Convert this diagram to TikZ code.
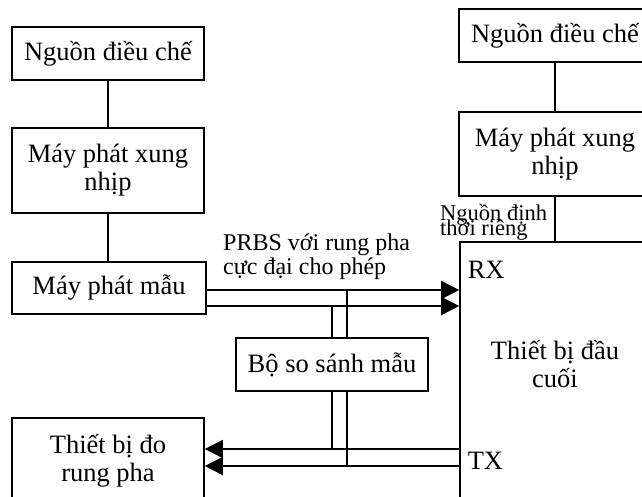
\documentclass[tikz,border=0pt]{standalone}
\usepackage{fontspec}
\setmainfont{Liberation Serif}
\usetikzlibrary{arrows.meta,calc}
\begin{document}
\begin{tikzpicture}[x=1pt,y=-1pt,
  box/.style={draw,line width=1.6pt,align=center,inner sep=0pt,font=\fontsize{26.5}{28}\selectfont},
  conn/.style={line width=1.6pt},
  arr/.style={line width=1.6pt,-{Triangle[length=18pt,width=18pt]}},
  lbl/.style={inner sep=0pt,anchor=base west}]
\useasboundingbox (0,0) rectangle (642,497);
% left column
\node[box,minimum width=192pt,minimum height=53pt] (n1) at (108,53.5) {Nguồn điều chế};
\node[box,minimum width=192pt,minimum height=85pt] (x1) at (108,170.5) {Máy phát xung\\nhịp};
\node[box,minimum width=194pt,minimum height=52pt] (mau) at (109,288) {Máy phát mẫu};
\node[box,minimum width=192pt,minimum height=53pt] (ss) at (332,364.5) {Bộ so sánh mẫu};
\node[box,minimum width=192pt,minimum height=86pt] (do) at (108,461) {Thiết bị đo\\rung pha};
% right column
\node[box,minimum width=192pt,minimum height=53pt] (n2) at (555,35.5) {Nguồn điều chế};
\node[box,minimum width=192pt,minimum height=84pt] (x2) at (555,154) {Máy phát xung\\nhịp};
\node[box,minimum width=190pt,minimum height=262pt] (tb) at (555,373) {};
\node[box,draw=none] (tbt) at (555,364) {Thiết bị đầu\\cuối};
\node[box,draw=none,anchor=west] (rx) at (467,270) {RX};
\node[box,draw=none,anchor=west] (tx) at (467,461) {TX};
% labels
\node[lbl,font=\fontsize{24}{24}\selectfont] (p1) at (223,250) {PRBS với rung pha};
\node[lbl,font=\fontsize{24}{24}\selectfont] (p2) at (223,274) {cực đại cho phép};
\node[lbl,font=\fontsize{22.5}{14}\selectfont] (q1) at (440,220) {Nguồn định};
\node[lbl,font=\fontsize{22.5}{14}\selectfont] (q2) at (440,235) {thời riêng};
% coordinates
\coordinate (r1) at (0,290);
\coordinate (r2) at (0,306);
\coordinate (r3) at (0,449);
\coordinate (r4) at (0,466);
\coordinate (v1) at (347,0);
\coordinate (v2) at (332,0);
% connectors
\draw[conn] (n1.south) -- (x1.north);
\draw[conn] (x1.south) -- (x1.south |- mau.north);
\draw[conn] (n2.south) -- (n2.south |- x2.north);
\draw[conn] (x2.south) -- (x2.south |- tb.north);
\draw[arr] (mau.east |- r1) -- (tb.west |- r1);
\draw[arr] (mau.east |- r2) -- (tb.west |- r2);
\draw[conn] (v1 |- r1) -- (v1 |- ss.north);
\draw[conn] (v2 |- r2) -- (v2 |- ss.north);
\draw[conn] (v2 |- ss.south) -- (v2 |- r3);
\draw[conn] (v1 |- ss.south) -- (v1 |- r4);
\draw[arr] (tb.west |- r3) -- (do.east |- r3);
\draw[arr] (tb.west |- r4) -- (do.east |- r4);
\end{tikzpicture}
\end{document}
